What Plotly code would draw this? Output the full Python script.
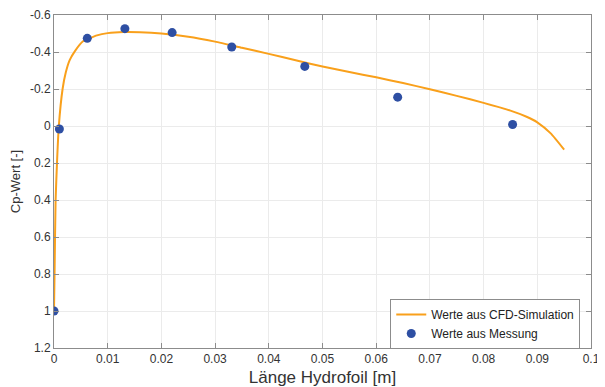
import plotly.graph_objects as go

# CFD simulation curve (x in m, Cp)
cfd_x = [0.0, 0.0001, 0.0003, 0.0006, 0.0009, 0.0016, 0.0022, 0.0029, 0.0039, 0.0054, 0.0062,
         0.008, 0.01, 0.013, 0.016, 0.02, 0.025, 0.03, 0.035, 0.04, 0.045, 0.05, 0.055,
         0.06, 0.065, 0.07, 0.075, 0.08, 0.085, 0.088, 0.09, 0.0925, 0.095]
cfd_y = [1.0, 0.8, 0.4, 0.17, 0.0, -0.2, -0.29, -0.355, -0.405, -0.458, -0.468,
         -0.49, -0.502, -0.508, -0.507, -0.5, -0.483, -0.456, -0.423, -0.39, -0.355, -0.322, -0.292,
         -0.263, -0.232, -0.199, -0.163, -0.125, -0.083, -0.05, -0.02, 0.04, 0.128]

# Measured values
mess_x = [0.0, 0.001, 0.0062, 0.0132, 0.022, 0.0331, 0.0467, 0.064, 0.0854]
mess_y = [1.0, 0.016, -0.474, -0.526, -0.505, -0.427, -0.322, -0.156, -0.008]

x_ticks = [0, 0.01, 0.02, 0.03, 0.04, 0.05, 0.06, 0.07, 0.08, 0.09, 0.1]
x_ticklabels = ["0", "0.01", "0.02", "0.03", "0.04", "0.05", "0.06", "0.07", "0.08", "0.09", "0.1"]
y_ticks = [-0.6, -0.4, -0.2, 0, 0.2, 0.4, 0.6, 0.8, 1.0, 1.2]
y_ticklabels = ["-0.6", "-0.4", "-0.2", "0", "0.2", "0.4", "0.6", "0.8", "1", "1.2"]

FONT = "Liberation Sans, Arial, Helvetica, sans-serif"

fig = go.Figure()
fig.add_trace(go.Scatter(x=cfd_x, y=cfd_y, mode="lines", name="Werte aus CFD-Simulation",
                         line=dict(color="#F9A01B", width=2, shape="spline", smoothing=0.5)))
fig.add_trace(go.Scatter(x=mess_x, y=mess_y, mode="markers", name="Werte aus Messung",
                         marker=dict(color="#2E4FA3", size=9)))

axis_common = dict(showline=True, linecolor="#8C8C8C", linewidth=1, mirror="ticks",
                   ticks="inside", ticklen=5, tickcolor="#8C8C8C", automargin=False,
                   showgrid=True, gridcolor="#EBEBEB", gridwidth=1, zeroline=False,
                   tickfont=dict(family=FONT, size=12, color="#333333"))

# the page body has an 8px margin, so the figure is sized to end at the window edge
fig.update_layout(
    width=597, height=379,
    margin=dict(l=46, r=14, t=7, b=39, autoexpand=False),
    paper_bgcolor="white", plot_bgcolor="white",
    font=dict(family=FONT, color="#333333"),
    xaxis=dict(range=[0, 0.1], tickvals=x_ticks, ticktext=x_ticklabels,
               title=dict(text="Länge Hydrofoil [m]", font=dict(family=FONT, size=17, color="#333333"),
                          standoff=5),
               **axis_common),
    yaxis=dict(range=[1.2, -0.6], tickvals=y_ticks, ticktext=y_ticklabels,
               title=dict(text="Cp-Wert [-]", font=dict(family=FONT, size=13, color="#333333"),
                          standoff=8),
               **axis_common),
    legend=dict(x=0.98, y=-0.003, xanchor="right", yanchor="bottom",
                bgcolor="white", bordercolor="#8C8C8C", borderwidth=1,
                font=dict(family=FONT, size=12, color="#222222"),
                tracegroupgap=0, itemwidth=30),
    showlegend=True,
)

fig.write_html("out.html")
